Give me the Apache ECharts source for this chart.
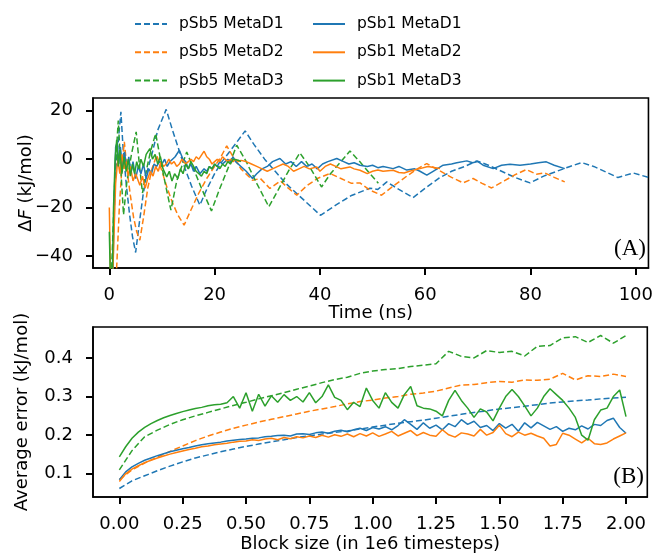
<!DOCTYPE html>
<html>
<head>
<meta charset="utf-8">
<script src="https://cdn.jsdelivr.net/npm/echarts@6/dist/echarts.min.js"></script>
<style>html,body{margin:0;padding:0;background:#fff;}#c{width:656px;height:554px;}</style>
</head>
<body>
<div id="c"></div>
<script>
// ---------- Panel A: ΔF vs time (ns) ----------
const sb5_d1_A = [[0.3,-60],[0.8,-30],[1.2,-5],[1.6,5],[2.2,19.6],[2.6,5],[3.2,-10],[3.8,-22],[4.4,-32],[5.0,-38.6],[5.6,-28],[6.4,-15],[7.2,-5],[8.2,3],[9.2,12],[10.8,20.6],[12,12],[13.2,4],[14.4,-4],[15.6,-11],[17.2,-19],[18.6,-12],[20,-6],[21.4,-1],[22.8,3],[24.2,7],[25.8,11.7],[27.5,6],[29.5,0],[31.5,-5],[33.5,-10],[35.5,-14],[37.5,-18],[40.1,-23.2],[43,-19],[46,-15],[49.5,-12],[51,-12.5],[52.7,-9.4],[55,-12.5],[57.7,-15.9],[60,-12],[62.5,-8],[65,-5],[67.5,-3],[69.8,-0.7],[72,-2.5],[74.5,-5],[77,-7.5],[79.9,-9.8],[82.5,-7],[85,-5],[87.5,-3],[89.7,-1.4],[92,-3],[94.5,-5.5],[96.6,-7.6],[99.5,-5.7],[102.8,-7.8]];
const sb5_d2_A = [[0.8,-60],[1.4,-44.6],[1.9,-20],[2.4,-3],[2.85,7.2],[3.4,-5],[4.0,-15],[4.6,-24],[5.2,-30],[5.8,-33.5],[6.5,-24],[7.3,-12],[8.1,-4],[9,1.7],[10,-5],[11,-12],[12,-18],[13,-23],[14.2,-27.3],[15.5,-21],[17,-14],[18.5,-8],[20,-3],[21.2,1],[22.3,5.5],[23.5,1],[25,-4],[27.2,-8.7],[28.7,-8],[30.5,-12.1],[32.5,-9],[34,-12],[35.6,-14.9],[37.5,-11],[39.5,-8],[41.9,-5.9],[44,-8],[46,-10],[47.6,-9.8],[49.5,-12.8],[51.7,-14.9],[54,-11],[56.5,-7],[58.5,-4],[60.3,-1.8],[62.5,-4.5],[65,-7.5],[67.2,-9.8],[69.1,-8],[70.8,-10],[72.6,-11.9],[75,-9],[77,-6.5],[79.2,-4.3],[81.1,-6.2],[82.7,-5.7],[84.5,-7.5],[86.5,-9.4]];
const sb5_d3_A = [[0.2,-60],[0.7,-30],[1.1,-5],[1.7,16],[2.2,-5],[2.7,-23],[3.3,-10],[4.2,2],[5.1,11.3],[5.7,-2],[6.3,-14],[6.9,-6],[7.8,3],[8.8,10.6],[9.8,-1],[10.8,-12],[11.7,-21.1],[12.8,-9],[14.7,3],[16,-4],[17.5,-12],[19.4,-21.4],[21,-12],[22.5,-4],[24.2,5.8],[26,-1],[28,-10],[30.3,-19.7],[32,-13],[34,-5],[36.2,2.6],[38,-3],[40.3,-11.5],[42,-6],[44,-1],[45.7,3.4],[47.6,-1.1],[49.5,-6],[51.1,-10]];
const sb1_d1_A = [[0.6,-60],[0.9,-20],[1.2,5],[1.5,7],[1.8,-2],[2.1,5],[2.5,-3],[2.9,3],[3.3,-4],[3.7,1],[4.1,-6],[4.5,-1],[5,-8],[5.5,-3],[6,-6],[6.5,-2],[7,-8],[7.5,-4],[8,-6],[8.5,-2],[9,-3],[9.5,-1],[10,-2],[10.5,0],[11,-3],[11.5,-1],[12,0],[12.5,1],[13.3,3.7],[14,0],[14.5,-1],[15,-4],[15.5,-2],[16,-5],[16.5,-3],[17.2,-6],[18,-4],[18.5,-5],[19,-3],[19.5,-4],[20,-2],[20.5,-3],[21,-1],[21.5,-2],[22,-1],[22.5,0],[23,-1],[23.5,1],[24,-1],[25,-3],[26,-5],[27.2,-8],[28,-6],[29,-4],[30,-3],[31,-1],[32.4,0.3],[33.5,-2],[34.5,-1],[35.5,-3],[36.5,-1],[37.5,-3],[38.5,-2],[39.5,-4],[40.5,-2],[41.5,-1],[43.2,0.3],[44.5,-1],[45.5,-2],[46.5,-1.5],[47.6,-2.5],[49,-3],[50,-2.5],[51,-3.5],[52,-3],[53.9,-3.9],[55,-3],[56.5,-4.5],[58,-4],[59,-5],[60.3,-6.6],[61.5,-5],[63.4,-2.5],[65,-2],[66,-1.5],[67.9,-0.7],[69,-1.5],[70,-1],[71,-2.5],[72.9,-3.9],[74.5,-2.5],[76.1,-2.1],[78,-2.5],[80,-2],[81.5,-1.5],[83,-1.1],[84.5,-2.5],[86.5,-3.9]];
const sb1_d2_A = [[0,-20],[0.2,-45],[0.5,-60],[0.9,-30],[1.2,-10],[1.6,0],[2,-6],[2.4,2],[2.8,-4],[3.2,-1],[3.6,-7],[4,-3],[4.5,-9],[5,-6],[5.8,-10.8],[6.3,-7],[6.8,-12],[7.3,-8],[7.8,-5],[8.3,-7],[8.8,-3],[9.3,-5],[9.8,-1],[10.3,-3],[10.8,-2],[11.3,0],[11.8,-2],[12.3,-1],[12.8,-3],[13.3,-2],[13.8,0],[14.5,-2],[15,-1],[15.5,0],[16,-1],[16.5,1],[17,0],[18,3.3],[18.5,1],[19,0],[19.5,-2],[20,-1],[20.5,0],[21,-1],[21.5,1],[22,0],[22.5,-1],[23,0],[23.5,-1],[24,0],[24.5,-1],[25,-0.5],[26,-1],[27,-2],[28,-3],[29,-4],[30,-5],[31,-4],[32,-3],[33,-2],[34,-3],[35,-5],[36,-4],[37,-3],[38,-4],[39.4,-3.2],[40,-5],[41,-3],[42,-2],[43,-3],[44,-4],[45.7,-3.2],[46.5,-4],[47.6,-4.6],[49,-6],[50,-5],[51,-4.5],[52,-5],[53.9,-4.6],[55,-5.5],[56,-5.7],[57,-5],[59,-3.9],[60.5,-3],[62.8,-3.9]];
const sb1_d3_A = [[0,-30],[0.2,-50],[0.5,-60],[0.8,-20],[1.1,0],[1.4,8],[1.7,-3],[2,4],[2.4,-6],[2.8,1],[3.2,-5],[3.6,0],[4,-7],[4.4,-2],[4.8,-6],[5.2,-1],[5.6,-4],[6,0],[6.5,-3],[7,2],[7.7,4.4],[8.2,0],[8.7,2],[9.2,-2],[9.7,1],[10.2,-4],[10.9,-7.3],[11.4,-5],[11.9,-9],[12.4,-6],[13,-8],[13.5,-4],[14,-6],[14.5,-2],[15,-4],[15.5,-1],[16,-3],[16.5,-5],[17,-6],[17.5,-7],[18,-5],[18.5,-6],[19,-3],[19.5,-4],[20,-2],[20.5,-3],[21,-3.9],[21.5,-2],[22,-3],[22.5,-1],[23,-2],[23.5,0],[24.5,-0.4],[25,-1]];

// ---------- Panel B: average error vs block size ----------
const sb5_d1_B = [0.062,0.082,0.095,0.108,0.12,0.131,0.141,0.149,0.157,0.164,0.171,0.177,0.183,0.188,0.194,0.198,0.203,0.207,0.211,0.216,0.221,0.226,0.231,0.235,0.239,0.244,0.249,0.254,0.259,0.263,0.268,0.271,0.275,0.279,0.283,0.286,0.289,0.291,0.294,0.296,0.298];
const sb5_d2_B = [0.085,0.11,0.128,0.143,0.158,0.172,0.186,0.198,0.208,0.218,0.226,0.234,0.241,0.248,0.255,0.262,0.268,0.274,0.281,0.287,0.291,0.296,0.3,0.306,0.309,0.314,0.322,0.33,0.331,0.336,0.339,0.337,0.343,0.342,0.345,0.36,0.343,0.354,0.352,0.358,0.352];
const sb5_d3_B = [0.11,0.16,0.196,0.213,0.228,0.24,0.25,0.259,0.268,0.277,0.285,0.294,0.302,0.31,0.319,0.327,0.336,0.344,0.35,0.36,0.366,0.37,0.372,0.378,0.381,0.385,0.417,0.404,0.4,0.419,0.414,0.417,0.405,0.43,0.432,0.452,0.455,0.44,0.458,0.438,0.458];
const sb1_d1_B = [0.085,0.105,0.118,0.127,0.135,0.141,0.147,0.152,0.157,0.161,0.165,0.168,0.172,0.175,0.178,0.18,0.182,0.185,0.187,0.189,0.19,0.192,0.193,0.196,0.197,0.199,0.2,0.198,0.203,0.204,0.202,0.206,0.208,0.205,0.21,0.213,0.209,0.214,0.218,0.212,0.22,0.216,0.222,0.214,0.225,0.24,0.228,0.215,0.232,0.218,0.226,0.214,0.23,0.222,0.24,0.228,0.236,0.22,0.225,0.212,0.23,0.218,0.228,0.21,0.232,0.219,0.233,0.224,0.215,0.222,0.21,0.218,0.214,0.224,0.216,0.228,0.225,0.238,0.244,0.22,0.205];
const sb1_d2_B = [0.08,0.1,0.112,0.121,0.129,0.135,0.141,0.146,0.151,0.155,0.159,0.163,0.166,0.17,0.172,0.175,0.177,0.179,0.182,0.184,0.185,0.188,0.186,0.19,0.192,0.188,0.194,0.191,0.196,0.193,0.198,0.194,0.2,0.195,0.201,0.197,0.203,0.196,0.204,0.198,0.206,0.197,0.203,0.21,0.198,0.205,0.212,0.199,0.207,0.2,0.197,0.214,0.201,0.195,0.206,0.203,0.198,0.215,0.2,0.207,0.226,0.204,0.196,0.208,0.2,0.205,0.198,0.192,0.172,0.176,0.205,0.2,0.19,0.18,0.192,0.178,0.176,0.18,0.19,0.198,0.206];
const sb1_d3_B = [0.144,0.17,0.192,0.208,0.22,0.23,0.238,0.245,0.251,0.256,0.261,0.265,0.269,0.272,0.276,0.279,0.28,0.284,0.3,0.27,0.31,0.262,0.306,0.275,0.302,0.285,0.305,0.29,0.3,0.286,0.31,0.284,0.3,0.33,0.298,0.29,0.266,0.285,0.274,0.322,0.29,0.27,0.31,0.285,0.27,0.305,0.326,0.276,0.27,0.268,0.262,0.25,0.29,0.316,0.29,0.27,0.246,0.268,0.26,0.237,0.27,0.3,0.318,0.3,0.276,0.25,0.27,0.3,0.32,0.305,0.29,0.27,0.246,0.2,0.187,0.24,0.265,0.27,0.3,0.317,0.248];

// sampling grids for panel B (block size, 1e6 timesteps)
const blockCoarse = sb5_d1_B.map((_, i) => +(i * 0.05).toFixed(3));
const blockFine = sb1_d1_B.map((_, i) => +(i * 0.025).toFixed(3));

const ticksA_x = [0, 20, 40, 60, 80, 100];
const ticksA_y = [-40, -20, 0, 20];
const ticksB_x = [0, 0.25, 0.5, 0.75, 1.0, 1.25, 1.5, 1.75, 2.0];
const ticksB_y = [0.1, 0.2, 0.3, 0.4];

const names = ['pSb5 MetaD1','pSb5 MetaD2','pSb5 MetaD3','pSb1 MetaD1','pSb1 MetaD2','pSb1 MetaD3'];
const colors = ['#1f77b4','#ff7f0e','#2ca02c'];

const FONT = 'DejaVu Sans';
const FS = 18;
const minus = v => String(v).replace('-', '\u2212');

function axisCommon(ticks, fmt, margin) {
  return {
    axisLine: { show: true, onZero: false, lineStyle: { color: '#000', width: 1.6 } },
    axisTick: { show: true, inside: false, length: 7, customValues: ticks, lineStyle: { color: '#000', width: 2 } },
    axisLabel: { show: true, customValues: ticks, formatter: fmt, color: '#000', fontFamily: FONT, fontSize: FS, margin: margin },
    splitLine: { show: false },
    nameMoveOverlap: false,
    nameTextStyle: { color: '#000', fontFamily: FONT, fontSize: FS }
  };
}

const pairs = (xs, ys) => ys.map((y, i) => [xs[i], y]);

const seriesA = [sb5_d1_A, sb5_d2_A, sb5_d3_A, sb1_d1_A, sb1_d2_A, sb1_d3_A].map((d, k) => ({
  name: names[k], type: 'line', xAxisIndex: 0, yAxisIndex: 0, data: d,
  showSymbol: false, symbol: 'none', animation: false, z: k < 3 ? 2 : 3,
  lineStyle: { color: colors[k % 3], width: 1.5, type: k < 3 ? [6, 3] : 'solid' },
  itemStyle: { color: colors[k % 3] }
}));
const seriesB = [
  pairs(blockCoarse, sb5_d1_B), pairs(blockCoarse, sb5_d2_B), pairs(blockCoarse, sb5_d3_B),
  pairs(blockFine, sb1_d1_B), pairs(blockFine, sb1_d2_B), pairs(blockFine, sb1_d3_B)
].map((d, k) => ({
  name: names[k], type: 'line', xAxisIndex: 1, yAxisIndex: 1, data: d,
  showSymbol: false, symbol: 'none', animation: false, z: k < 3 ? 2 : 3,
  lineStyle: { color: colors[k % 3], width: 1.5, type: k < 3 ? [6, 3] : 'solid' },
  itemStyle: { color: colors[k % 3] }
}));

const legendBase = {
  orient: 'vertical', top: 16, padding: 0, itemWidth: 32, itemHeight: 14, itemGap: 12.3,
  itemStyle: { opacity: 0, color: 'rgba(0,0,0,0)', borderWidth: 0 },
  textStyle: { color: '#000', fontFamily: FONT, fontSize: 15.5, padding: [0, 0, 0, 7] },
  selectedMode: false
};

const chart = echarts.init(document.getElementById('c'), null, { renderer: 'canvas' });
chart.setOption({
  backgroundColor: '#fff',
  animation: false,
  legend: [
    Object.assign({}, legendBase, { left: 134, data: names.slice(0, 3) }),
    Object.assign({}, legendBase, { left: 312, data: names.slice(3) })
  ],
  title: [
    { text: '(A)', right: 10, top: 237, padding: 0, textStyle: { fontFamily: 'Liberation Serif', fontWeight: 'normal', fontSize: 23, color: '#000' } },
    { text: '(B)', right: 12, top: 465, padding: 0, textStyle: { fontFamily: 'Liberation Serif', fontWeight: 'normal', fontSize: 23, color: '#000' } }
  ],
  grid: [
    { left: 93, right: 7.5, top: 98, height: 170, show: true, borderColor: '#000', borderWidth: 1.6, backgroundColor: 'transparent' },
    { left: 93, right: 8.7, top: 327, height: 170, show: true, borderColor: '#000', borderWidth: 1.6, backgroundColor: 'transparent' }
  ],
  xAxis: [
    Object.assign(axisCommon(ticksA_x, v => minus(v), 18), {
      type: 'value', gridIndex: 0, min: -3.1, max: 102.4,
      name: 'Time (ns)', nameLocation: 'middle', nameGap: 36
    }),
    Object.assign(axisCommon(ticksB_x, v => minus(Number(v).toFixed(2)), 18), {
      type: 'value', gridIndex: 1, min: -0.104, max: 2.084,
      name: 'Block size (in 1e6 timesteps)', nameLocation: 'middle', nameGap: 38
    })
  ],
  yAxis: [
    Object.assign(axisCommon(ticksA_y, v => minus(v), 20), {
      type: 'value', gridIndex: 0, min: -45, max: 25.3,
      name: '{n|\u0394}{i|F}{n| (kJ/mol)}', nameLocation: 'middle', nameGap: 58,
      nameTextStyle: { color: '#000', fontFamily: FONT, fontSize: FS,
        rich: { n: { fontFamily: FONT, fontSize: FS, color: '#000' }, i: { fontFamily: FONT, fontSize: FS, fontStyle: 'italic', color: '#000' } } }
    }),
    Object.assign(axisCommon(ticksB_y, v => Number(v).toFixed(1), 20), {
      type: 'value', gridIndex: 1, min: 0.04, max: 0.48,
      name: 'Average error (kJ/mol)', nameLocation: 'middle', nameGap: 62
    })
  ],
  series: seriesA.concat(seriesB)
});
</script>
</body>
</html>
